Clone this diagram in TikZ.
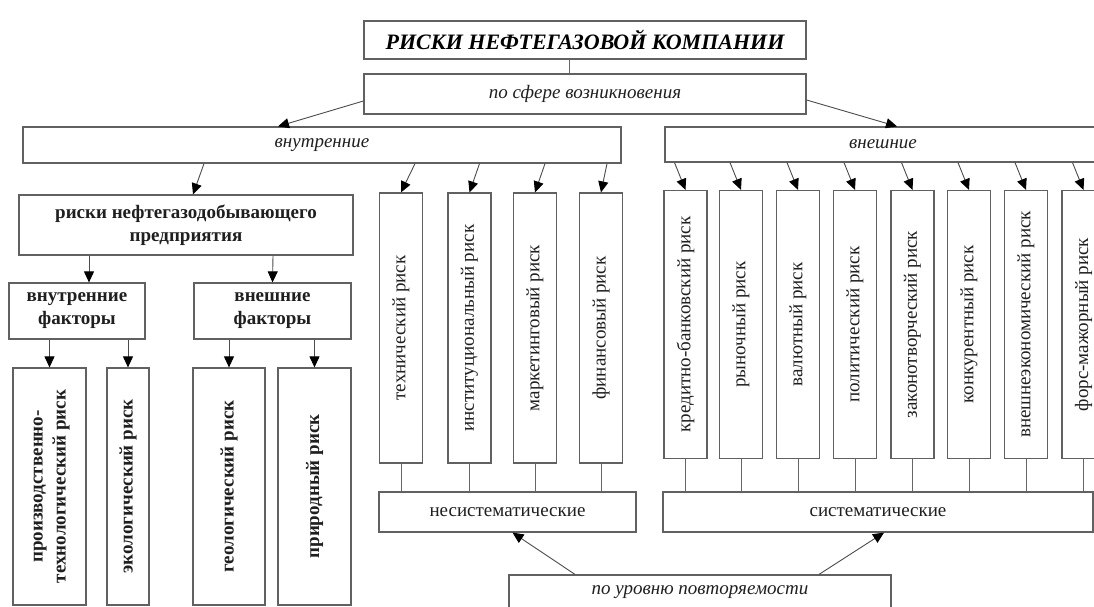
\documentclass[tikz,border=0pt]{standalone}
\usepackage{fontspec}
\setmainfont{Liberation Serif}
\usetikzlibrary{arrows.meta,calc}
\begin{document}
\begin{tikzpicture}[x=1pt,y=-1pt,
  box/.style={draw=black!62, line width=1.2pt, fill=white, inner sep=0pt, align=center, text=black!88},
  arr/.style={draw=black!70, line width=0.9pt, -{Triangle[length=11pt,width=10pt,color=black]}},
  ln/.style={draw=black!60, line width=0.8pt},
  f/.style={font=\fontsize{19}{23}\selectfont},
  fb/.style={font=\fontsize{19}{23}\selectfont\bfseries},
  fi/.style={font=\fontsize{19}{23}\selectfont\itshape},
  vr/.style={box, f, minimum width=43, minimum height=268},
  vl/.style={box, fb, minimum height=237}
]
\clip (0,0) rectangle (1094,607);
\fill[white] (0,0) rectangle (1094,607);
% top
\node[box, minimum width=442, minimum height=38, font=\fontsize{22}{26}\selectfont\bfseries\itshape, text=black] (T) at (585,40) {РИСКИ НЕФТЕГАЗОВОЙ КОМПАНИИ};
\node[box, fi, minimum width=442, minimum height=40] (S) at (585,94) {по сфере возникновения};
\node[box, fi, minimum width=598, minimum height=36] (VN) at (322,145) {внутренние};
\node[box, fi, minimum width=436, minimum height=35] (VS) at (883,144.5) {внешние};
% left branch
\node[box, fb, minimum width=334, minimum height=60] (RP) at (186,225) {риски нефтегазодобывающего\\предприятия};
\node[box, fb, minimum width=136, minimum height=56] (VF) at (77,311) {внутренние\\факторы};
\node[box, fb, minimum width=157, minimum height=56] (EF) at (272.5,311) {внешние\\факторы};
\node[vl, minimum width=73] (L1) at (49.5,486.5) {\rotatebox{90}{\begin{tabular}{@{}c@{}}производственно-\\технологический риск\end{tabular}}};
\node[vl, minimum width=42] (L2) at (128,486.5) {\rotatebox{90}{экологический риск}};
\node[vl, minimum width=72] (L3) at (229,486.5) {\rotatebox{90}{геологический риск}};
\node[vl, minimum width=73] (L4) at (314.5,486.5) {\rotatebox{90}{природный риск}};
% middle boxes
\node[vr, minimum height=270] (M1) at (401,328) {\rotatebox{90}{технический риск}};
\node[vr, minimum height=270] (M2) at (469.5,328) {\rotatebox{90}{институциональный риск}};
\node[vr, minimum height=270] (M3) at (535,328) {\rotatebox{90}{маркетинговый риск}};
\node[vr, minimum height=270] (M4) at (601,328) {\rotatebox{90}{финансовый риск}};
% right boxes
\node[vr] (R1) at (685.5,324.5) {\rotatebox{90}{кредитно-банковский риск}};
\node[vr] (R2) at (741,324.5) {\rotatebox{90}{рыночный риск}};
\node[vr] (R3) at (798,324.5) {\rotatebox{90}{валютный риск}};
\node[vr] (R4) at (855,324.5) {\rotatebox{90}{политический риск}};
\node[vr] (R5) at (912.5,324.5) {\rotatebox{90}{законотворческий риск}};
\node[vr] (R6) at (969,324.5) {\rotatebox{90}{конкурентный риск}};
\node[vr] (R7) at (1026,324.5) {\rotatebox{90}{внешнеэкономический риск}};
\node[vr] (R8) at (1083.5,324.5) {\rotatebox{90}{форс-мажорный риск}};
% bottom
\node[box, f, minimum width=257, minimum height=40] (NS) at (507.5,512) {несистематические};
\node[box, f, minimum width=430, minimum height=40] (SS) at (878,512) {систематические};
\node[box, fi, minimum width=382, minimum height=34] (PU) at (700,592) {по уровню повторяемости};
% connectors
\draw[ln] ([xshift=-16pt]T.south) -- ([xshift=-16pt]S.north);
\draw[arr] ([yshift=-7pt]S.west) -- ([xshift=-44pt]VN.north);
\draw[arr] ([yshift=-6pt]S.east) -- ([xshift=14pt]VS.north);
\draw[arr] ([xshift=-118pt]VN.south) -- ([xshift=7pt]RP.north);
\foreach \m/\d in {M1/14,M2/10,M3/10,M4/6}{
  \draw[arr] ($(\m.north|-VN.south)+(\d,0)$) -- (\m.north);
}
\foreach \r in {R1,R2,R3,R4,R5,R6,R7,R8}{
  \draw[arr] ($(\r.north|-VS.south)+(-11,0)$) -- (\r.north);
}
\draw[arr] ([xshift=-97pt]RP.south) -- ([xshift=12pt]VF.north);
\draw[arr] ([xshift=87pt]RP.south) -- (EF.north);
\draw[arr] (VF.south -| L1.north) -- (L1.north);
\draw[arr] (VF.south -| L2.north) -- (L2.north);
\draw[arr] (EF.south -| L3.north) -- (L3.north);
\draw[arr] (EF.south -| L4.north) -- (L4.north);
\foreach \m in {M1,M2,M3,M4}{
  \draw[ln] (\m.south) -- (\m.south |- NS.north);
}
\foreach \r in {R1,R2,R3,R4,R5,R6,R7,R8}{
  \draw[ln] (\r.south) -- (\r.south |- SS.north);
}
\draw[arr] ([xshift=-125pt]PU.north) -- ([xshift=5pt]NS.south);
\draw[arr] ([xshift=119pt]PU.north) -- ([xshift=6pt]SS.south);
\end{tikzpicture}
\end{document}
